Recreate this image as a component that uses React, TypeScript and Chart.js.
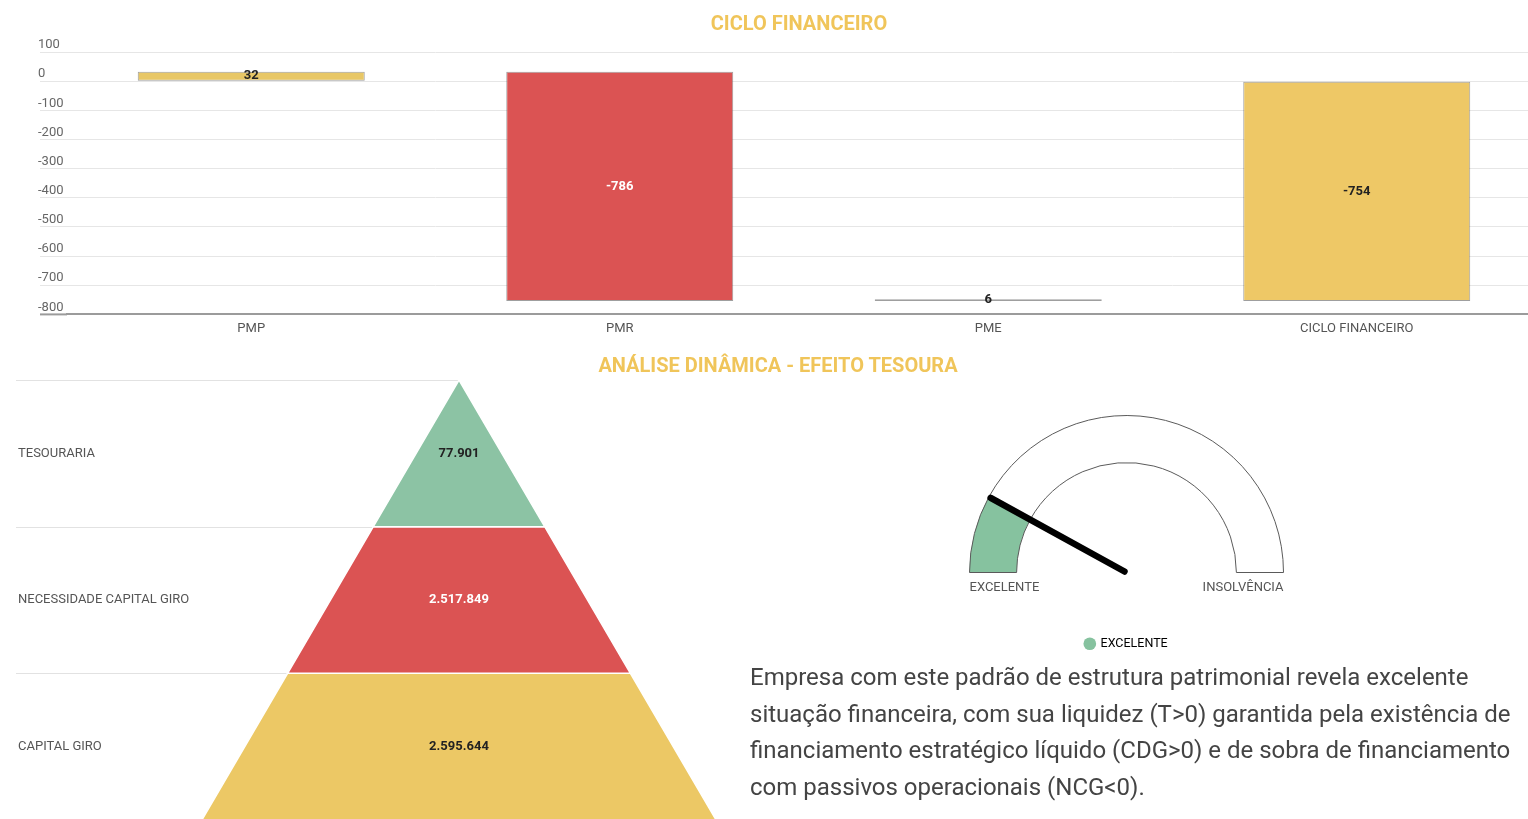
import React, { useEffect, useRef } from 'react';
import { Chart, registerables } from 'chart.js';

Chart.register(...registerables);

const FONT = 'Roboto, "Noto Sans", "DejaVu Sans", sans-serif';

// ---- Top: waterfall "CICLO FINANCEIRO"
const cycleTitle = 'CICLO FINANCEIRO';
const cycleCategories = ['PMP', 'PMR', 'PME', 'CICLO FINANCEIRO'];
const cycleValues = [32, -786, 6, -754];
const cycleIsTotal = [false, false, false, true];
const cycleColors = ['#E8C766', '#DB5353', '#9A9A9A', '#EEC866'];
const cycleValueColors = ['#222222', '#FFFFFF', '#222222', '#222222'];
const cycleAxisMin = -800;
const cycleAxisMax = 100;
const cycleAxisStep = 100;

// ---- Bottom left: pyramid "ANÁLISE DINÂMICA - EFEITO TESOURA"
const sectionTitle = 'ANÁLISE DINÂMICA - EFEITO TESOURA';
const pyramidCategories = ['TESOURARIA', 'NECESSIDADE CAPITAL GIRO', 'CAPITAL GIRO'];
const pyramidValues = [77901, 2517849, 2595644];
const pyramidColors = ['#8CC3A4', '#DB5353', '#ECC865'];
const pyramidValueColors = ['#222222', '#FFFFFF', '#222222'];

// ---- Bottom right: gauge
const gaugeCategories = ['EXCELENTE', 'INSOLVÊNCIA'];
const gaugeValue = 16;
const gaugeMax = 100;
const gaugeColors = ['#86C29F', '#FFFFFF'];

const paragraphLines = [
  'Empresa com este padrão de estrutura patrimonial revela excelente',
  'situação financeira, com sua liquidez (T>0) garantida pela existência de',
  'financiamento estratégico líquido (CDG>0) e de sobra de financiamento',
  'com passivos operacionais (NCG<0).',
];

const TITLE_COLOR = '#F0C55A';

function fmtBR(n: number): string {
  return String(n).replace(/\B(?=(\d{3})+(?!\d))/g, '.');
}

function CycleChart() {
  const ref = useRef<HTMLCanvasElement>(null);
  useEffect(() => {
    const ranges: [number, number][] = [];
    let run = 0;
    cycleValues.forEach((v, i) => {
      if (cycleIsTotal[i]) ranges.push([0, v]);
      else {
        ranges.push([run, run + v]);
        run += v;
      }
    });
    const valuePlugin = {
      id: 'cycleValueLabels',
      afterDatasetsDraw(chart: any) {
        const ctx = chart.ctx;
        const meta = chart.getDatasetMeta(0);
        ctx.save();
        ctx.font = `bold 13px ${FONT}`;
        ctx.textAlign = 'center';
        ctx.textBaseline = 'middle';
        meta.data.forEach((el: any, i: number) => {
          ctx.fillStyle = cycleValueColors[i];
          ctx.fillText(String(cycleValues[i]), el.x, (el.y + el.base) / 2);
        });
        ctx.restore();
      },
      afterDraw(chart: any) {
        const ctx = chart.ctx;
        const a = chart.chartArea;
        ctx.save();
        ctx.strokeStyle = '#9b9b9b';
        ctx.lineWidth = 2;
        ctx.beginPath();
        ctx.moveTo(a.left - 27, a.bottom);
        ctx.lineTo(a.left, a.bottom);
        ctx.stroke();
        ctx.restore();
      },
    };
    const chart = new Chart(ref.current as HTMLCanvasElement, {
      type: 'bar',
      data: {
        labels: cycleCategories,
        datasets: [
          {
            data: ranges as any,
            backgroundColor: cycleColors,
            borderColor: 'rgba(80,80,80,0.55)',
            borderWidth: 1,
            borderSkipped: false,
            categoryPercentage: 0.8,
            barPercentage: 0.77,
          },
        ],
      },
      options: {
        animation: false,
        responsive: false,
        maintainAspectRatio: false,
        layout: { padding: { left: 38, right: 59, top: 52, bottom: 0 } },
        plugins: {
          legend: { display: false },
          tooltip: { enabled: false },
          title: { display: false },
        },
        scales: {
          x: {
            grid: { display: false, drawTicks: false },
            border: { display: true, color: '#9b9b9b', width: 2 },
            ticks: { color: '#555', font: { size: 13, family: FONT }, padding: 7 },
          },
          y: {
            min: cycleAxisMin,
            max: cycleAxisMax,
            ticks: {
              stepSize: cycleAxisStep,
              color: '#666',
              font: { size: 13, family: FONT },
              crossAlign: 'far',
              labelOffset: -7,
              padding: 0,
            },
            grid: { color: '#e6e6e6', tickLength: 27 },
            border: { display: false },
            afterFit: (s: any) => {
              s.width = 29;
            },
          },
        },
      } as any,
      plugins: [valuePlugin],
    });
    return () => chart.destroy();
  }, []);
  return (
    <canvas
      ref={ref}
      width={1600}
      height={344}
      style={{ position: 'absolute', left: 0, top: 0, width: 1600, height: 344 }}
    />
  );
}

function PyramidChart() {
  const ref = useRef<HTMLCanvasElement>(null);
  useEffect(() => {
    const n = pyramidCategories.length;
    const half = 0.583;
    const datasets = pyramidCategories.map((c, i) => {
      const wt = (half * i) / n;
      const wb = (half * (i + 1)) / n;
      return {
        label: c,
        data: [
          { x: -wt, y: i },
          { x: wt, y: i },
          { x: wb, y: i + 1 },
          { x: -wb, y: i + 1 },
          { x: -wt, y: i },
        ],
        xAxisID: 'x',
        yAxisID: 'yv',
        backgroundColor: pyramidColors[i],
        borderColor: '#ffffff',
        borderWidth: 1.5,
        fill: 'shape',
        pointRadius: 0,
        tension: 0,
      };
    });
    const sepPlugin = {
      id: 'pyrSeparators',
      beforeDatasetsDraw(chart: any) {
        const ctx = chart.ctx;
        const yv = chart.scales.yv;
        const xs = chart.scales.x;
        ctx.save();
        ctx.strokeStyle = '#e2e2e2';
        ctx.lineWidth = 1;
        for (let i = 0; i < n; i++) {
          const y = Math.round(yv.getPixelForValue(i)) + 0.5;
          ctx.beginPath();
          ctx.moveTo(chart.chartArea.left - 2, y);
          ctx.lineTo(xs.getPixelForValue(0), y);
          ctx.stroke();
        }
        ctx.restore();
      },
    };
    const valPlugin = {
      id: 'pyrValues',
      afterDatasetsDraw(chart: any) {
        const ctx = chart.ctx;
        const yv = chart.scales.yv;
        const xs = chart.scales.x;
        ctx.save();
        ctx.font = `bold 13px ${FONT}`;
        ctx.textAlign = 'center';
        ctx.textBaseline = 'middle';
        pyramidValues.forEach((v, i) => {
          ctx.fillStyle = pyramidValueColors[i];
          ctx.fillText(fmtBR(v), xs.getPixelForValue(0), yv.getPixelForValue(i + 0.5));
        });
        ctx.restore();
      },
    };
    const chart = new Chart(ref.current as HTMLCanvasElement, {
      type: 'line',
      data: { datasets: datasets as any },
      options: {
        animation: false,
        responsive: false,
        maintainAspectRatio: false,
        layout: { autoPadding: false, padding: { left: 18, right: 16.4, top: 10, bottom: 15 } },
        plugins: { legend: { display: false }, tooltip: { enabled: false } },
        scales: {
          x: { type: 'linear', min: -1, max: 0.6, display: false },
          yv: { type: 'linear', min: 0, max: 3, reverse: true, display: false },
          y: {
            type: 'category',
            labels: pyramidCategories,
            offset: true,
            position: 'left',
            grid: { display: false, drawTicks: false },
            border: { display: false },
            ticks: { mirror: true, padding: 0, color: '#555', font: { size: 13, family: FONT } },
          },
        },
      } as any,
      plugins: [sepPlugin, valPlugin],
    });
    return () => chart.destroy();
  }, []);
  return (
    <canvas
      ref={ref}
      width={740}
      height={465}
      style={{ position: 'absolute', left: 0, top: 370, width: 740, height: 465 }}
    />
  );
}

function GaugeChart() {
  const ref = useRef<HTMLCanvasElement>(null);
  useEffect(() => {
    const gaugePlugin = {
      id: 'gaugeExtras',
      afterDatasetsDraw(chart: any) {
        const ctx = chart.ctx;
        const arc = chart.getDatasetMeta(0).data[0];
        const cx = arc.x;
        const cy = arc.y;
        const R = arc.outerRadius;
        const a = arc.endAngle;
        ctx.save();
        ctx.font = `13px ${FONT}`;
        ctx.fillStyle = '#555';
        ctx.textBaseline = 'middle';
        ctx.textAlign = 'left';
        ctx.fillText(gaugeCategories[0], cx - R, cy + 15);
        ctx.textAlign = 'right';
        ctx.fillText(gaugeCategories[1], cx + R, cy + 15);
        ctx.strokeStyle = '#000';
        ctx.lineWidth = 6.5;
        ctx.lineCap = 'round';
        ctx.beginPath();
        ctx.moveTo(cx - 2, cy - 1);
        ctx.lineTo(cx + Math.cos(a) * (R - 2), cy + Math.sin(a) * (R - 2));
        ctx.stroke();
        ctx.restore();
      },
    };
    const chart = new Chart(ref.current as HTMLCanvasElement, {
      type: 'doughnut',
      data: {
        labels: gaugeCategories,
        datasets: [
          {
            data: [gaugeValue, gaugeMax - gaugeValue],
            backgroundColor: gaugeColors,
            borderColor: '#5a5a5a',
            borderWidth: 1,
          },
        ],
      },
      options: {
        animation: false,
        responsive: false,
        maintainAspectRatio: false,
        rotation: -90,
        circumference: 180,
        cutout: '70%',
        layout: { padding: { left: 18.5, right: 20.5, top: 15, bottom: 0 } },
        plugins: {
          tooltip: { enabled: false },
          legend: {
            display: true,
            position: 'bottom',
            labels: {
              usePointStyle: true,
              boxWidth: 9,
              boxHeight: 9,
              padding: 64.5,
              color: '#555',
              font: { size: 12.5, family: FONT },
              generateLabels: () => [
                {
                  text: gaugeCategories[0],
                  fillStyle: gaugeColors[0],
                  strokeStyle: gaugeColors[0],
                  lineWidth: 0,
                  pointStyle: 'circle',
                  hidden: false,
                  index: 0,
                  datasetIndex: 0,
                },
              ],
            },
          },
        },
      } as any,
      plugins: [gaugePlugin],
    });
    return () => chart.destroy();
  }, []);
  return (
    <canvas
      ref={ref}
      width={355}
      height={260}
      style={{ position: 'absolute', left: 950, top: 400, width: 355, height: 260 }}
    />
  );
}

const titleStyle: React.CSSProperties = {
  position: 'absolute',
  textAlign: 'center',
  fontSize: 20,
  lineHeight: '22px',
  fontWeight: 'bold',
  color: TITLE_COLOR,
  whiteSpace: 'nowrap',
};

export default function App() {
  Chart.defaults.font.family = FONT;
  return (
    <div
      style={{
        position: 'absolute',
        left: 0,
        top: 0,
        width: 1528,
        height: 819,
        overflow: 'hidden',
        background: '#ffffff',
        fontFamily: FONT,
      }}
    >
      <CycleChart />
      <div style={{ ...titleStyle, left: 0, top: 12, width: 1598 }}>{cycleTitle}</div>
      <PyramidChart />
      <div style={{ ...titleStyle, left: 0, top: 354, width: 1556 }}>{sectionTitle}</div>
      <GaugeChart />
      <div
        style={{
          position: 'absolute',
          left: 750,
          top: 659,
          fontSize: 24,
          lineHeight: '36.7px',
          color: '#444',
          whiteSpace: 'nowrap',
        }}
      >
        {paragraphLines.map((l, i) => (
          <div key={i}>{l}</div>
        ))}
      </div>
    </div>
  );
}
